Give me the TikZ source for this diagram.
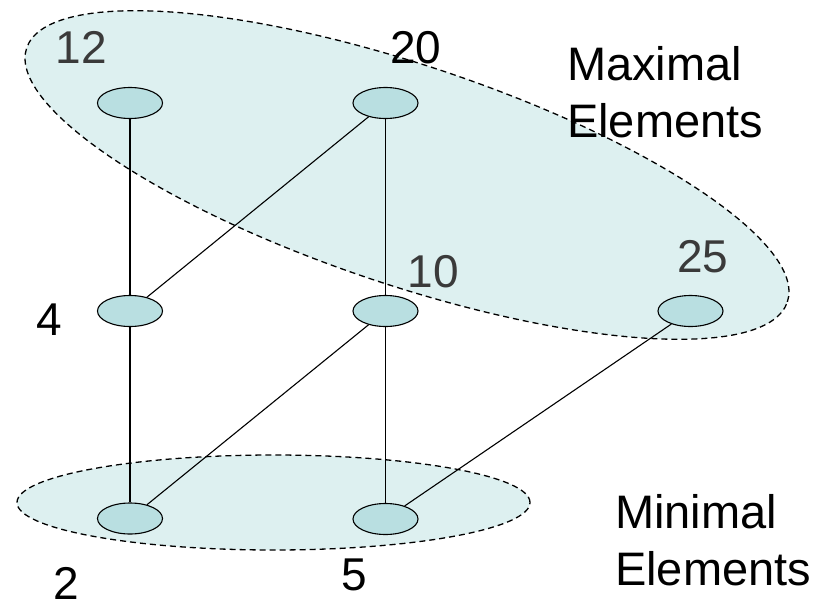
\documentclass[tikz,border=0pt]{standalone}
\usepackage{fontspec}
\setmainfont{Liberation Sans}
\usetikzlibrary{shapes.geometric}
\definecolor{regionfill}{HTML}{DDF0F0}
\definecolor{nodefill}{HTML}{B9DFE1}
\definecolor{undertext}{HTML}{3A3A3A}
\tikzset{
  elem/.style={ellipse, draw=black, line width=1.1pt, fill=nodefill, minimum width=65pt, minimum height=31pt, inner sep=0pt},
  region/.style={draw=black, dashed, dash pattern=on 6pt off 4pt, line width=1.3pt, fill=regionfill},
  edge/.style={draw=black, line width=1.1pt},
  num/.style={anchor=base, inner sep=0pt, font=\fontsize{46}{55}\selectfont},
  caption/.style={anchor=base west, inner sep=0pt, font=\fontsize{47}{57}\selectfont}
}
\begin{document}
\begin{tikzpicture}[x=1pt,y=1pt]
\useasboundingbox (0,0) rectangle (817,-608);
% regions
\draw[region, rotate around={-18.45:(407,-175)}] (407,-175) ellipse [x radius=401pt, y radius=110pt];
\draw[region] (273.5,-502.5) ellipse [x radius=256.5pt, y radius=47.5pt];
% elements
\node[elem] (n12) at (130,-103) {};
\node[elem] (n20) at (385.5,-103) {};
\node[elem] (n4) at (130,-311) {};
\node[elem] (n10) at (385.5,-311) {};
\node[elem] (n25) at (690.5,-311) {};
\node[elem] (n2) at (130,-518.5) {};
\node[elem] (n5) at (385.5,-519) {};
% edges
\draw[edge] (n12) -- (n4);
\draw[edge] (n20) -- (n4);
\draw[edge] (n20) -- (n10);
\draw[edge] (n4) -- (n2);
\draw[edge] (n10) -- (n2);
\draw[edge] (n10) -- (n5);
\draw[edge] (n25) -- (n5);
% labels
\node[num, text=undertext] (l12) at (81.5,-63) {12};
\node[num] (l20) at (416,-63) {20};
\node[num] (l4) at (49.5,-335) {4};
\node[num, text=undertext] (l10) at (433.5,-287) {10};
\node[num, text=undertext] (l25) at (703,-272) {25};
\node[num] (l2) at (66,-599) {2};
\node[num] (l5) at (354.5,-590) {5};
% captions
\node[caption] (max1) at (567,-80) {Maximal};
\node[caption] (max2) at (567,-137) {Elements};
\node[caption] (min1) at (615,-528) {Minimal};
\node[caption] (min2) at (615,-585) {Elements};
\end{tikzpicture}
\end{document}
